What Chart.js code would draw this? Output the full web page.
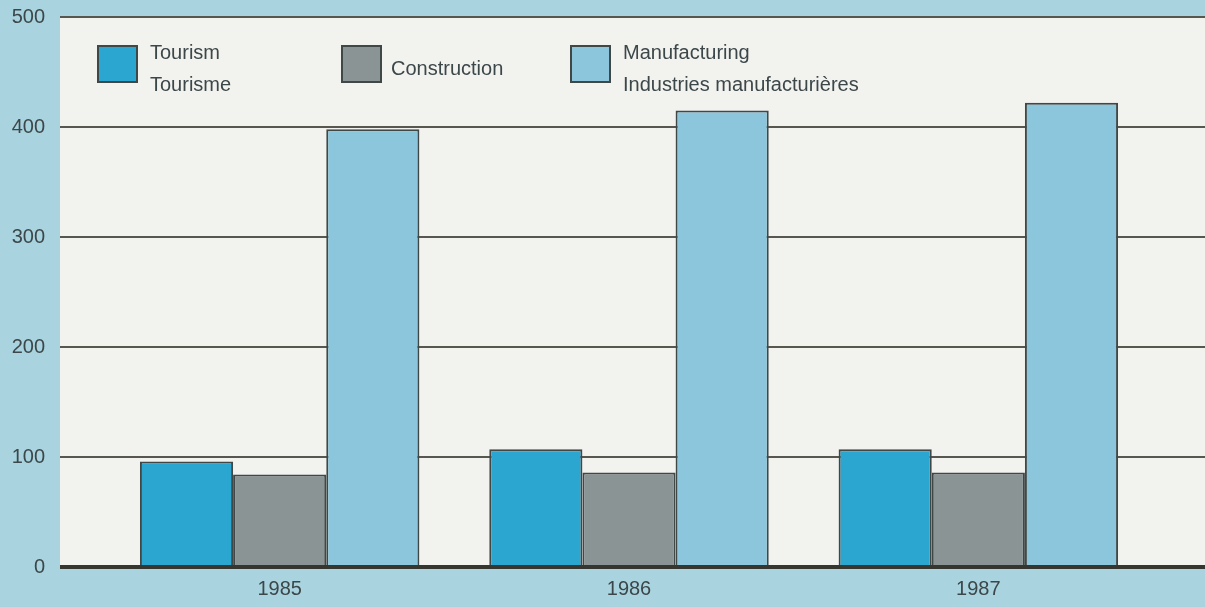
<!DOCTYPE html>
<html>
<head>
<meta charset="utf-8">
<script src="https://cdn.jsdelivr.net/npm/chart.js@4.4.1/dist/chart.umd.min.js"></script>
<style>
  html, body { margin: 0; padding: 0; background: #a8d3df; overflow: hidden; }
  #chart { display: block; }
</style>
</head>
<body>
<canvas id="chart" width="1205" height="607"></canvas>
<script>
// Values (persons, thousands)
const years = ["1985", "1986", "1987"];
const tourism = [96, 107, 107];
const construction = [84, 86, 86];
const manufacturing = [398, 415, 422];
const yTicks = [0, 100, 200, 300, 400, 500];

// Legend texts (two languages)
const legendTourism = ["Tourism", "Tourisme"];
const legendConstruction = ["Construction"];
const legendManufacturing = ["Manufacturing", "Industries manufacturières"];

const FONT = "'Liberation Sans', Arial, Helvetica, sans-serif";
const TEXT = "#3c4749";
const GRID = "#57564f";
const ZERO = "#363631";
const EDGE = "#3f4847";
const LEFT_TICK = 45;
const RIGHT_TICK = 52;

const legendLines = [legendTourism, legendConstruction, legendManufacturing];
const legendX = [98, 342, 571];

// white plot panel behind everything
const panelPlugin = {
  id: "panel",
  beforeDraw(chart) {
    const y = chart.scales.y;
    const ctx = chart.ctx;
    ctx.save();
    ctx.fillStyle = "#f2f2ef";
    const top = y.getPixelForValue(500);
    const bottom = y.getPixelForValue(0);
    ctx.fillRect(y.right - LEFT_TICK, top, chart.width, bottom - top);
    ctx.restore();
  }
};

// legend boxes with multi-line labels, inside the plot
const legendPlugin = {
  id: "boxLegend",
  afterDraw(chart) {
    const ctx = chart.ctx;
    ctx.save();
    ctx.font = "20px " + FONT;
    ctx.textBaseline = "middle";
    chart.data.datasets.forEach((ds, i) => {
      const x = legendX[i];
      const top = 46;
      ctx.fillStyle = ds.backgroundColor;
      ctx.fillRect(x, top, 39, 36);
      ctx.strokeStyle = EDGE;
      ctx.lineWidth = 2;
      ctx.strokeRect(x, top, 39, 36);
      ctx.fillStyle = TEXT;
      const lines = legendLines[i];
      if (lines.length === 1) {
        ctx.fillText(lines[0], x + 49, top + 23);
      } else {
        ctx.fillText(lines[0], x + 52, top + 7);
        ctx.fillText(lines[1], x + 52, top + 39);
      }
    });
    ctx.restore();
  }
};

const gridColor = (c) => (c.tick && c.tick.value === 0 ? ZERO : GRID);
const gridWidth = (c) => (c.tick && c.tick.value === 0 ? 4 : 2);
const noPad = (s) => { s.paddingTop = 0; s.paddingBottom = 0; };

new Chart(document.getElementById("chart"), {
  type: "bar",
  data: {
    labels: years,
    datasets: [
      { label: legendTourism.join(" / "), data: tourism, backgroundColor: "#2aa6d1" },
      { label: legendConstruction.join(" / "), data: construction, backgroundColor: "#8a9495" },
      { label: legendManufacturing.join(" / "), data: manufacturing, backgroundColor: "#8cc6dc" }
    ].map((d) => ({ ...d, borderColor: EDGE, borderWidth: 2, categoryPercentage: 0.8, barPercentage: 1.0 }))
  },
  options: {
    responsive: false,
    animation: false,
    devicePixelRatio: 1,
    layout: { padding: { top: 17, bottom: 0, left: 0, right: 0 } },
    plugins: { legend: { display: false }, tooltip: { enabled: false } },
    scales: {
      x: {
        grid: { display: false, drawTicks: false },
        border: { display: false },
        ticks: { color: TEXT, font: { family: FONT, size: 20 }, padding: 10 },
        afterFit: (s) => { s.height = 40; }
      },
      y: {
        min: 0,
        max: 500,
        afterBuildTicks: (s) => { s.ticks = yTicks.map((v) => ({ value: v })); },
        afterFit: (s) => { s.width = 105; noPad(s); },
        grid: { color: gridColor, lineWidth: gridWidth, tickLength: LEFT_TICK },
        border: { display: false },
        ticks: { color: TEXT, font: { family: FONT, size: 20 }, padding: 15 }
      },
      y2: {
        position: "right",
        min: 0,
        max: 500,
        afterBuildTicks: (s) => { s.ticks = yTicks.map((v) => ({ value: v })); },
        afterFit: (s) => { s.width = RIGHT_TICK; noPad(s); },
        grid: { drawOnChartArea: false, color: gridColor, lineWidth: gridWidth, tickLength: RIGHT_TICK },
        border: { display: false },
        ticks: { display: false }
      }
    }
  },
  plugins: [panelPlugin, legendPlugin]
});
</script>
</body>
</html>
